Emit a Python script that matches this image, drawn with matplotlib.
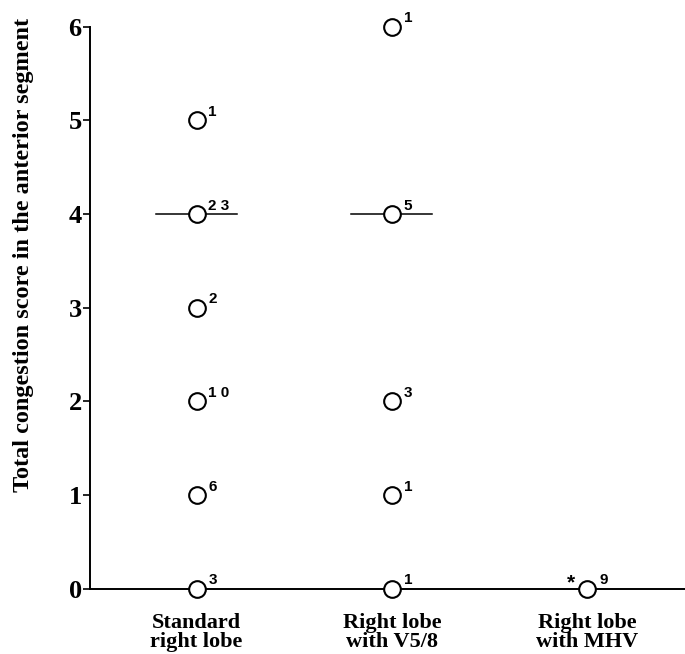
import matplotlib
matplotlib.use("Agg")
import matplotlib.pyplot as plt

# groups and observed scores with patient counts
groups = ["Standard\nright lobe", "Right lobe\nwith V5/8", "Right lobe\nwith MHV"]
scores_std = [5, 4, 3, 2, 1, 0]
counts_std = ["1", "2 3", "2", "1 0", "6", "3"]
scores_v58 = [6, 4, 2, 1, 0]
counts_v58 = ["1", "5", "3", "1", "1"]
scores_mhv = [0]
counts_mhv = ["9"]
medians = [4, 4, None]
yticks = [0, 1, 2, 3, 4, 5, 6]

serif = ["Liberation Serif", "DejaVu Serif"]
sans = ["Liberation Sans", "DejaVu Sans"]

fig = plt.figure(figsize=(6.85, 6.54), dpi=100)
ax = fig.add_axes([0.1314, 0.1000, 0.8686, 0.8593])

all_scores = [scores_std, scores_v58, scores_mhv]
all_counts = [counts_std, counts_v58, counts_mhv]

for i, (sc, cn) in enumerate(zip(all_scores, all_counts)):
    xpos = i + 1
    ax.plot([xpos] * len(sc), sc, "o", ms=12, mfc="white", mec="black",
            mew=1.5, clip_on=False, zorder=3, ls="none")
    for s, c in zip(sc, cn):
        ax.annotate(c, (xpos, s), xytext=(8.5, 3), textcoords="offset points",
                    fontsize=11, fontweight="bold", family=sans,
                    ha="left", va="baseline")
    if medians[i] is not None:
        ax.plot([xpos - 0.207, xpos + 0.207], [medians[i]] * 2, color="black",
                lw=1.1, zorder=2)

# significance mark next to MHV group
ax.annotate("*", (3, 0), xytext=(-12, 0), textcoords="offset points",
            fontsize=15, fontweight="bold", family=sans, ha="center",
            va="baseline")

ax.set_xlim(0.455, 3.5)
ax.set_ylim(0, 6)
ax.set_yticks(yticks)
ax.set_yticklabels([str(t) for t in yticks], fontsize=19, fontweight="bold",
                   family=serif)
ax.set_xticks([1, 2, 3])
ax.set_xticklabels(groups, fontsize=16, fontweight="bold", family=serif,
                   linespacing=0.95)
ax.tick_params(axis="x", length=0, pad=17.5)
ax.tick_params(axis="y", length=5, width=1.2, pad=1)

ax.spines["top"].set_visible(False)
ax.spines["right"].set_visible(False)
ax.spines["left"].set_linewidth(1.4)
ax.spines["bottom"].set_linewidth(1.4)

fig.text(24 / 685, 1 - 255 / 654, "Total congestion score in the anterior segment",
         rotation=90, ha="center", va="center", fontsize=17.5, fontweight="bold",
         family=serif)

fig.savefig("out.png", dpi=100)
